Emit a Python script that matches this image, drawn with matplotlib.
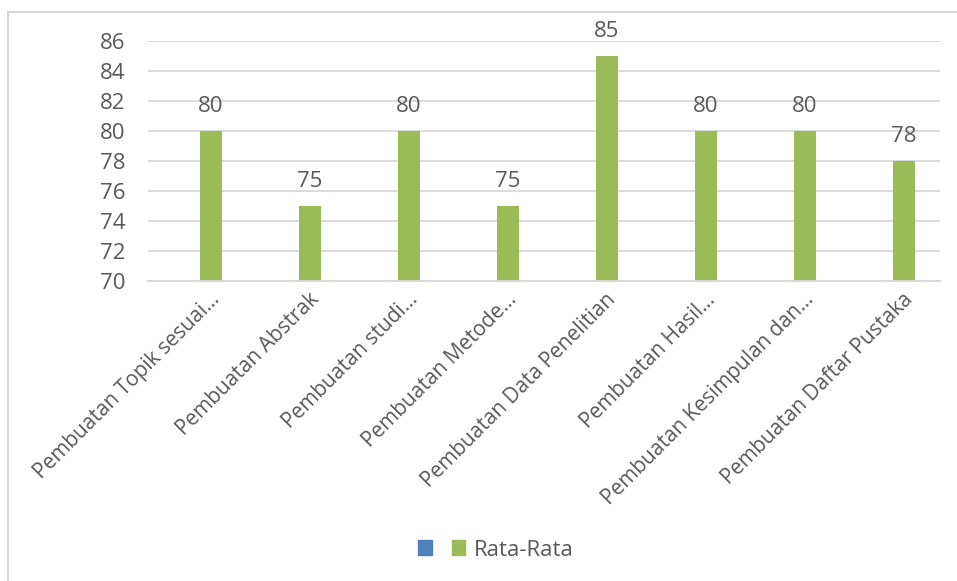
import matplotlib
matplotlib.use("Agg")
import matplotlib.pyplot as plt
from matplotlib.patches import Rectangle
import matplotlib.transforms as mtransforms
import numpy as np

categories = [
    "Pembuatan Topik sesuai...",
    "Pembuatan Abstrak",
    "Pembuatan studi...",
    "Pembuatan Metode...",
    "Pembuatan Data Penelitian",
    "Pembuatan Hasil...",
    "Pembuatan Kesimpulan dan...",
    "Pembuatan Daftar Pustaka",
]
rata_rata = [80, 75, 80, 75, 85, 80, 80, 78]
series_names = ["", "Rata-Rata"]
y_ticks = [70, 72, 74, 76, 78, 80, 82, 84, 86]

plt.rcParams["font.family"] = ["Open Sans", "DejaVu Sans"]
text_color = "#595959"
grid_color = "#D9D9D9"
blue = "#4F81BD"
green = "#9BBB59"

W, H = 957, 581
fig = plt.figure(figsize=(W / 100, H / 100), dpi=100)

# chart area border (Excel style, cropped at right and bottom)
fig.patches.append(Rectangle((8 / W, -0.1), 1.2, 1 - 12 / H + 0.1, transform=fig.transFigure,
                             fill=False, edgecolor=grid_color, linewidth=1.5))

ax = fig.add_axes([148 / W, 1 - 281 / H, (940 - 148) / W, (281 - 41) / H])

x = np.arange(len(categories))
bw = 0.22
off = 0.135
# empty first series keeps the green bars offset to the right
ax.bar(x - off, [0] * len(x), bw, color=blue, label=series_names[0])
ax.bar(x + off, [v - 70 for v in rata_rata], bw, bottom=70, color=green,
       label=series_names[1])

for xi, v in zip(x, rata_rata):
    ax.annotate(str(v), (xi + off, v), xytext=(0, 10), textcoords="offset points",
                ha="center", va="bottom", fontsize=16, color=text_color)

ax.set_xlim(-0.5, len(categories) - 0.5)
ax.set_ylim(70, 86)
ax.set_yticks(y_ticks)
ax.yaxis.grid(True, color=grid_color, linewidth=1.3)
ax.set_axisbelow(True)
for s in ["top", "right", "left"]:
    ax.spines[s].set_visible(False)
ax.spines["bottom"].set_color(grid_color)
ax.spines["bottom"].set_linewidth(1.3)
ax.tick_params(axis="y", length=0, labelsize=16, labelcolor=text_color, pad=16)
ax.tick_params(axis="x", length=0, labelcolor=text_color, pad=6)
ax.set_xticks(x)
labels = ax.set_xticklabels(categories, rotation=45, ha="right", va="top",
                            rotation_mode="anchor", fontsize=15)
shift = mtransforms.ScaledTranslation(12 / 100, 0, fig.dpi_scale_trans)
for lab in labels:
    lab.set_transform(lab.get_transform() + shift)

handles = [Rectangle((0, 0), 1, 1, color=blue), Rectangle((0, 0), 1, 1, color=green)]
fig.legend(handles, series_names, loc="center", bbox_to_anchor=(496 / W, 1 - 550 / H),
           ncol=2, frameon=False, fontsize=16, handlelength=0.62, handleheight=0.62,
           columnspacing=0.5, handletextpad=0.4, labelcolor=text_color)

fig.savefig("out.png", dpi=100)
